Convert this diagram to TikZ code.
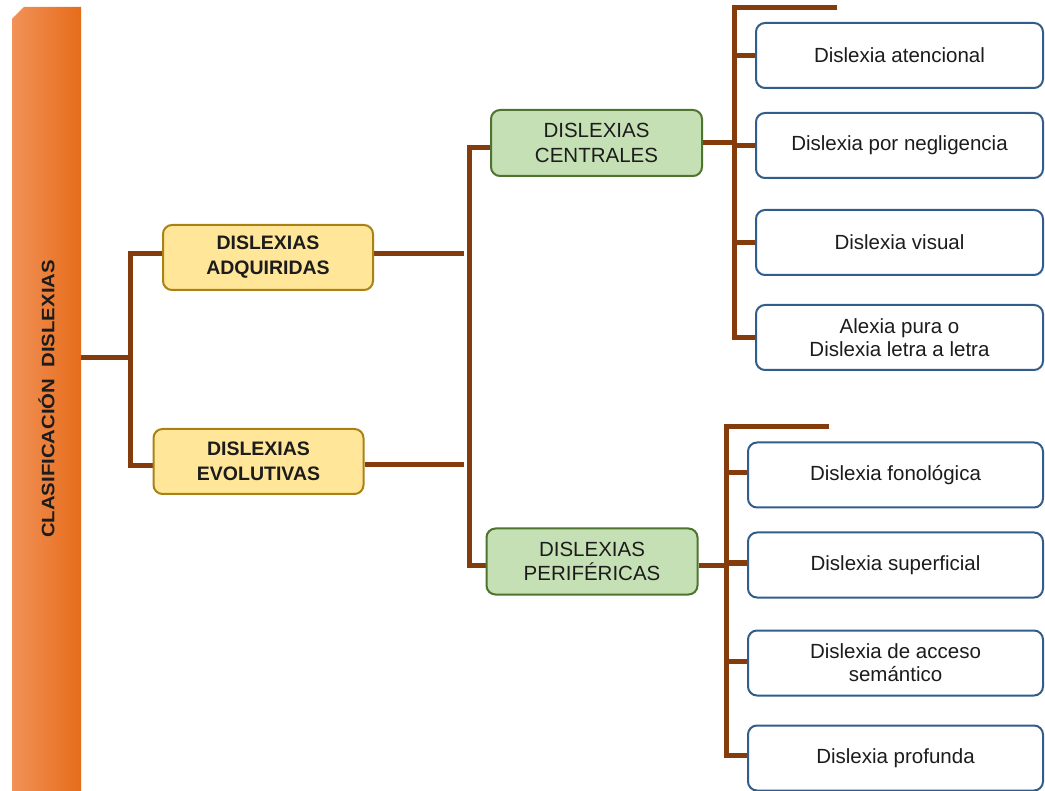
\documentclass[tikz,border=0pt]{standalone}
\usepackage{fontspec}
\setmainfont{Liberation Sans}
\usetikzlibrary{backgrounds}
\definecolor{brn}{RGB}{133,60,12}
\definecolor{blu}{RGB}{49,93,141}
\definecolor{grn}{RGB}{197,224,180}
\definecolor{grnd}{RGB}{78,116,48}
\definecolor{yel}{RGB}{255,230,153}
\definecolor{yeld}{RGB}{170,130,20}
\definecolor{orl}{RGB}{241,146,88}
\definecolor{ord}{RGB}{230,108,26}
\definecolor{txt}{RGB}{28,28,28}
\begin{document}
\begin{tikzpicture}[x=1pt,y=-1pt,
  conn/.style={draw=brn,line width=5pt},
  box/.style={rounded corners=9pt, line width=2pt, align=center, inner sep=0pt, text=txt},
  leaf/.style={box, draw=blu, fill=white, minimum width=287pt, minimum height=65pt, font=\fontsize{20.5}{23}\selectfont},
  midbox/.style={box, draw=grnd, fill=grn, minimum width=211pt, minimum height=66pt, font=\fontsize{20.5}{24.5}\selectfont},
  lvlone/.style={box, draw=yeld, fill=yel, minimum width=210pt, minimum height=65pt, font=\fontsize{19.5}{25}\selectfont\bfseries}
]
\useasboundingbox (0,0) rectangle (1045,791);

% root bar
\begin{pgfonlayer}{background}
\shade[left color=orl, right color=ord] (12,19) -- (24,7) -- (81,7) -- (81,791) -- (12,791) -- cycle;
\end{pgfonlayer}
\node[minimum width=69pt, minimum height=784pt, inner sep=0pt, text=txt] (root) at (46.5,399)
  {\rotatebox{90}{\scalebox{1.13}[1]{\fontsize{18}{20}\selectfont\bfseries CLASIFICACIÓN\ \ DISLEXIAS}}};

% first level
\node[lvlone] (adq) at (268,257.5) {DISLEXIAS\\ADQUIRIDAS};
\node[lvlone] (evo) at (258.5,461.5) {DISLEXIAS\\EVOLUTIVAS};

% second level
\node[midbox] (cen) at (596.5,143) {DISLEXIAS\\CENTRALES};
\node[midbox] (per) at (592,561.5) {DISLEXIAS\\PERIFÉRICAS};

% leaves (central)
\node[leaf] (ate) at (899.5,55.5) {Dislexia\ atencional};
\node[leaf] (neg) at (899.5,145.5) {Dislexia\ por\ negligencia};
\node[leaf] (vis) at (899.5,242.5) {Dislexia\ visual};
\node[leaf] (alx) at (899.5,337.5) {Alexia\ pura\ o\\Dislexia\ letra\ a\ letra};

% leaves (peripheral)
\node[leaf, minimum width=295pt] (fon) at (895.5,475) {Dislexia\ fonológica};
\node[leaf, minimum width=295pt] (sup) at (895.5,565) {Dislexia\ superficial};
\node[leaf, minimum width=295pt] (sem) at (895.5,663) {Dislexia\ de\ acceso\\semántico};
\node[leaf, minimum width=295pt] (pro) at (895.5,758) {Dislexia\ profunda};

% connector coordinates
\coordinate (j1) at (130,358);
\coordinate (g2) at (464,350);
\coordinate (j2) at (469,350);
\coordinate (v1) at (734,8);
\coordinate (s1) at (837,8);
\coordinate (v2) at (726,427);
\coordinate (s2) at (829,427);

\begin{pgfonlayer}{background}
\draw[conn] (root.east |- j1) -- (j1);
\draw[conn] ([yshift=4pt]adq.west) -| (j1) |- ([yshift=-4.5pt]evo.west);
\draw[conn] ([yshift=4pt]adq.east) -- ([yshift=4pt]adq.east -| g2);
\draw[conn] ([yshift=-3pt]evo.east) -- ([yshift=-3pt]evo.east -| g2);
\draw[conn] ([yshift=-5pt]cen.west) -| (j2) |- ([yshift=-3.5pt]per.west);
% central group
\draw[conn] (cen.east) -- (cen.east -| v1);
\draw[conn] (s1) -- (v1) |- (alx.west);
\draw[conn] (v1 |- ate.west) -- (ate.west);
\draw[conn] (v1 |- neg.west) -- (neg.west);
\draw[conn] (v1 |- vis.west) -- (vis.west);
% peripheral group
\draw[conn] ([yshift=-3.5pt]per.east) -- ([yshift=-3.5pt]per.east -| v2);
\draw[conn] (s2) -- (v2) |- ([yshift=3pt]pro.west);
\draw[conn] ([yshift=2pt]v2 |- fon.west) -- ([yshift=2pt]fon.west);
\draw[conn] ([yshift=2pt]v2 |- sup.west) -- ([yshift=2pt]sup.west);
\draw[conn] ([yshift=2pt]v2 |- sem.west) -- ([yshift=2pt]sem.west);
\end{pgfonlayer}
\end{tikzpicture}
\end{document}
